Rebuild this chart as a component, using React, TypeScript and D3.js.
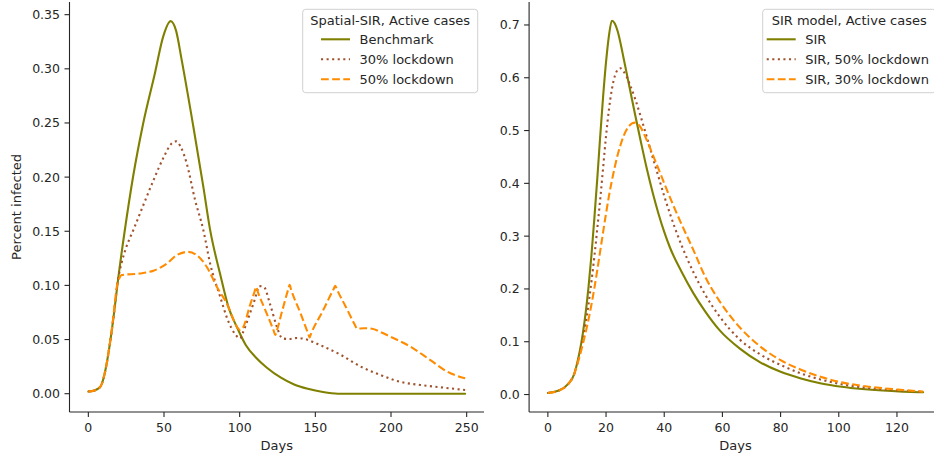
import React from 'react';
import * as d3 from 'd3';

// ---------- data ----------
const leftXTicks = [0, 50, 100, 150, 200, 250];
const leftYTicks = [0, 0.05, 0.1, 0.15, 0.2, 0.25, 0.3, 0.35];
const rightXTicks = [0, 20, 40, 60, 80, 100, 120];
const rightYTicks = [0, 0.1, 0.2, 0.3, 0.4, 0.5, 0.6, 0.7];

const leftLegendTitle = 'Spatial-SIR, Active cases';
const leftLabels = ['Benchmark', '30% lockdown', '50% lockdown'];
const rightLegendTitle = 'SIR model, Active cases';
const rightLabels = ['SIR', 'SIR, 50% lockdown', 'SIR, 30% lockdown'];

// [day, fraction infected]
const spatialBenchmark: [number, number][] = [
  [0, 0.002], [4, 0.003], [8, 0.0065], [10, 0.014], [12, 0.027], [14, 0.044], [16.4, 0.068],
  [19.7, 0.106], [24, 0.15], [29.7, 0.2015], [36.3, 0.25], [44, 0.296], [49.5, 0.33],
  [54.4, 0.344], [58, 0.335], [61.7, 0.308], [69.4, 0.2465], [76, 0.191], [80.5, 0.151],
  [87, 0.111], [92.6, 0.08], [98, 0.062], [104, 0.045], [111, 0.033], [118, 0.024],
  [127, 0.015], [136, 0.0085], [145, 0.0045], [155, 0.0015], [165, 0], [200, 0], [249, 0],
];
const spatial30: [number, number][] = [
  [0, 0.002], [4, 0.003], [8, 0.0065], [10, 0.014], [12, 0.027], [14, 0.044], [16.4, 0.068],
  [19.7, 0.106], [22, 0.121], [25, 0.135], [30, 0.152], [36, 0.173], [43, 0.197],
  [50, 0.219], [55, 0.231], [58, 0.233], [61, 0.228], [65, 0.2127], [70.5, 0.179],
  [76, 0.151], [80.5, 0.12], [87, 0.09], [92.6, 0.0665], [97, 0.055], [100.3, 0.051],
  [102, 0.056], [106, 0.071], [110, 0.087], [113, 0.0993], [116, 0.0986], [120, 0.083],
  [124.6, 0.0617], [127, 0.053], [128.5, 0.051], [133, 0.0505], [138, 0.0515], [143, 0.0505],
  [153, 0.045], [166.6, 0.036], [180, 0.025], [193, 0.0173], [206, 0.011], [219.5, 0.008],
  [232.8, 0.0059], [249, 0.0034],
];
const spatial50: [number, number][] = [
  [0, 0.002], [4, 0.003], [8, 0.0065], [10, 0.014], [12, 0.027], [14, 0.044], [16, 0.065],
  [19, 0.1], [21, 0.108], [22, 0.1096], [34, 0.111], [43, 0.1136], [47, 0.116], [51.8, 0.12],
  [58.4, 0.128], [66, 0.131], [71.6, 0.128], [78.3, 0.117], [84.9, 0.0988], [92.6, 0.08],
  [96, 0.068], [98.5, 0.061], [100.3, 0.0588], [102, 0.0605], [107, 0.0825], [109.8, 0.094],
  [110.9, 0.0986], [112, 0.094], [117, 0.077], [122.5, 0.058], [123.5, 0.0542],
  [124.5, 0.058], [128, 0.076], [132, 0.096], [133, 0.1005], [134, 0.096], [140, 0.075],
  [145.2, 0.0557], [146.2, 0.052], [147.2, 0.0555], [155, 0.0766], [162.2, 0.097],
  [163.2, 0.0996], [164.2, 0.0965], [170, 0.0806], [176, 0.064], [177.6, 0.06],
  [182, 0.0605], [187.5, 0.06], [193, 0.057], [199.7, 0.0526], [212.9, 0.0434],
  [226, 0.031], [237.2, 0.0203], [249, 0.0142],
];

const sirBase: [number, number][] = [
  [0, 0.003], [4, 0.008], [7, 0.02], [9, 0.038], [10, 0.058], [11, 0.083], [12, 0.115],
  [13, 0.155], [14, 0.205], [15, 0.265], [16, 0.335], [17, 0.41], [18, 0.49], [19, 0.565],
  [20, 0.63], [21, 0.68], [22, 0.708], [23, 0.703], [24, 0.688], [25, 0.665], [26, 0.638],
  [28, 0.584], [30, 0.53], [32, 0.478], [34, 0.428], [36, 0.383], [38, 0.343], [40, 0.308],
  [42, 0.278], [46, 0.232], [50, 0.192], [54, 0.158], [59, 0.122], [66, 0.087], [73, 0.061],
  [80, 0.043], [87, 0.0305], [94, 0.021], [101, 0.0148], [108, 0.0105], [115, 0.0075],
  [122, 0.0055], [129, 0.0042],
];
const sir50: [number, number][] = [
  [0, 0.003], [4, 0.008], [7, 0.02], [9, 0.038], [10, 0.056], [11, 0.078], [12, 0.105],
  [13, 0.136], [14, 0.172], [15, 0.215], [16, 0.262], [17, 0.315], [18, 0.37], [19, 0.43],
  [20, 0.49], [21, 0.54], [22, 0.578], [23, 0.603], [24, 0.615], [25, 0.618], [26, 0.612],
  [27, 0.603], [28, 0.59], [30, 0.56], [32, 0.525], [34, 0.488], [36, 0.45], [38, 0.413],
  [40, 0.376], [42, 0.342], [46, 0.282], [50, 0.232], [54, 0.19], [59, 0.148], [66, 0.104],
  [73, 0.076], [80, 0.056], [87, 0.04], [94, 0.028], [101, 0.0195], [108, 0.0137],
  [115, 0.0097], [122, 0.0071], [129, 0.0053],
];
const sir30: [number, number][] = [
  [0, 0.003], [4, 0.008], [7, 0.02], [9, 0.038], [10, 0.055], [11, 0.074], [12, 0.095],
  [13, 0.118], [14, 0.143], [15, 0.171], [16, 0.202], [17, 0.236], [18, 0.272], [19, 0.308],
  [20, 0.343], [21, 0.376], [22, 0.405], [23, 0.431], [24, 0.454], [25, 0.473], [26, 0.489],
  [27, 0.501], [28, 0.509], [29, 0.514], [30, 0.515], [31, 0.512], [32, 0.505], [33, 0.494],
  [34, 0.482], [36, 0.455], [38, 0.428], [40, 0.4], [42, 0.373], [44, 0.347], [46, 0.322],
  [50, 0.274], [54, 0.224], [59, 0.177], [66, 0.127], [73, 0.091], [80, 0.065], [87, 0.047],
  [94, 0.033], [101, 0.023], [108, 0.0165], [115, 0.012], [122, 0.0086], [129, 0.0055],
];

// ---------- styles ----------
const FONT = 'DejaVu Sans, sans-serif';
const TEXT = '#262626';
const LW = 2.1;
const styles = [
  { color: '#808000', dash: undefined as string | undefined, cap: 'round' as const },
  { color: '#a0522d', dash: `${1 * LW},${1.65 * LW}`, cap: 'butt' as const },
  { color: '#ff8c00', dash: `${3.7 * LW},${1.6 * LW}`, cap: 'butt' as const },
];

type PanelProps = {
  id: string;
  left: number;
  right: number;
  top: number;
  bottom: number;
  xDomain: [number, number];
  yDomain: [number, number];
  xTicks: number[];
  yTicks: number[];
  yFmt: string;
  series: [number, number][][];
  labels: string[];
  title: string;
  legendX: number;
  legendW: number;
  handleX: number;
};

function Panel(p: PanelProps) {
  const x = d3.scaleLinear().domain(p.xDomain).range([p.left, p.right]);
  const y = d3.scaleLinear().domain(p.yDomain).range([p.bottom, p.top]);
  const line = d3
    .line<[number, number]>()
    .x((d) => x(d[0]))
    .y((d) => y(d[1]))
    .curve(d3.curveMonotoneX);
  const fmt = d3.format(p.yFmt);
  const legendY = 9.3;
  const rowY = [39.3, 59.3, 79.3];
  return (
    <g>
      <defs>
        <clipPath id={p.id}>
          <rect x={p.left} y={p.top} width={p.right - p.left} height={p.bottom - p.top} />
        </clipPath>
      </defs>
      <g clipPath={`url(#${p.id})`}>
        {p.series.map((s, i) => (
          <path
            key={i}
            d={line(s) || ''}
            fill="none"
            stroke={styles[i].color}
            strokeWidth={LW}
            strokeDasharray={styles[i].dash}
            strokeLinecap={styles[i].cap}
            strokeLinejoin="round"
          />
        ))}
      </g>
      {/* spines */}
      <line x1={p.left} x2={p.left} y1={p.top} y2={p.bottom} stroke={TEXT} strokeWidth={1.1} />
      <line x1={p.left} x2={p.right} y1={p.bottom} y2={p.bottom} stroke={TEXT} strokeWidth={1.1} />
      {/* y ticks */}
      {p.yTicks.map((t) => (
        <g key={'y' + t}>
          <line x1={p.left - 5} x2={p.left} y1={y(t)} y2={y(t)} stroke={TEXT} strokeWidth={1.1} />
          <text
            x={p.left - 9.5}
            y={y(t)}
            dy="0.36em"
            textAnchor="end"
            fontSize={12.5}
            fontFamily={FONT}
            fill={TEXT}
          >
            {fmt(t)}
          </text>
        </g>
      ))}
      {/* x ticks */}
      {p.xTicks.map((t) => (
        <g key={'x' + t}>
          <line x1={x(t)} x2={x(t)} y1={p.bottom} y2={p.bottom + 5} stroke={TEXT} strokeWidth={1.1} />
          <text
            x={x(t)}
            y={p.bottom + 19.5}
            textAnchor="middle"
            fontSize={12.5}
            fontFamily={FONT}
            fill={TEXT}
          >
            {t}
          </text>
        </g>
      ))}
      <text
        x={(p.left + p.right) / 2}
        y={449.5}
        textAnchor="middle"
        fontSize={13}
        fontFamily={FONT}
        fill={TEXT}
      >
        Days
      </text>
      {/* legend */}
      <rect
        x={p.legendX}
        y={legendY}
        width={p.legendW}
        height={83.4}
        rx={3}
        fill="white"
        fillOpacity={0.8}
        stroke="#d0d0d0"
        strokeWidth={1}
      />
      <text
        x={p.legendX + p.legendW / 2}
        y={24.6}
        textAnchor="middle"
        fontSize={13}
        fontFamily={FONT}
        fill={TEXT}
      >
        {p.title}
      </text>
      {p.labels.map((lab, i) => (
        <g key={lab}>
          <line
            x1={p.handleX}
            x2={p.handleX + 29}
            y1={rowY[i]}
            y2={rowY[i]}
            stroke={styles[i].color}
            strokeWidth={LW}
            strokeDasharray={styles[i].dash}
            strokeLinecap="butt"
          />
          <text
            x={p.handleX + 38.5}
            y={rowY[i]}
            dy="0.36em"
            fontSize={13}
            fontFamily={FONT}
            fill={TEXT}
          >
            {lab}
          </text>
        </g>
      ))}
    </g>
  );
}

export default function App() {
  return (
    <svg
      width={934}
      height={457}
      viewBox="0 0 934 457"
      style={{ position: 'absolute', left: 0, top: 0, background: 'white' }}
    >
      <rect x={0} y={0} width={934} height={457} fill="white" />
      <text
        transform="translate(20.5,207) rotate(-90)"
        textAnchor="middle"
        fontSize={13}
        fontFamily={FONT}
        fill={TEXT}
      >
        Percent infected
      </text>
      <Panel
        id="clipL"
        left={69.5}
        right={484}
        top={2}
        bottom={412}
        xDomain={[-12.45, 261.45]}
        yDomain={[-0.0169, 0.3617]}
        xTicks={leftXTicks}
        yTicks={leftYTicks}
        yFmt=".2f"
        series={[spatialBenchmark, spatial30, spatial50]}
        labels={leftLabels}
        title={leftLegendTitle}
        legendX={302.7}
        legendW={175}
        handleX={321}
      />
      <Panel
        id="clipR"
        left={529.1}
        right={941.9}
        top={2}
        bottom={412}
        xDomain={[-6.45, 135.45]}
        yDomain={[-0.0331, 0.7435]}
        xTicks={rightXTicks}
        yTicks={rightYTicks}
        yFmt=".1f"
        series={[sirBase, sir50, sir30]}
        labels={rightLabels}
        title={rightLegendTitle}
        legendX={762.7}
        legendW={173}
        handleX={766.7}
      />
    </svg>
  );
}
